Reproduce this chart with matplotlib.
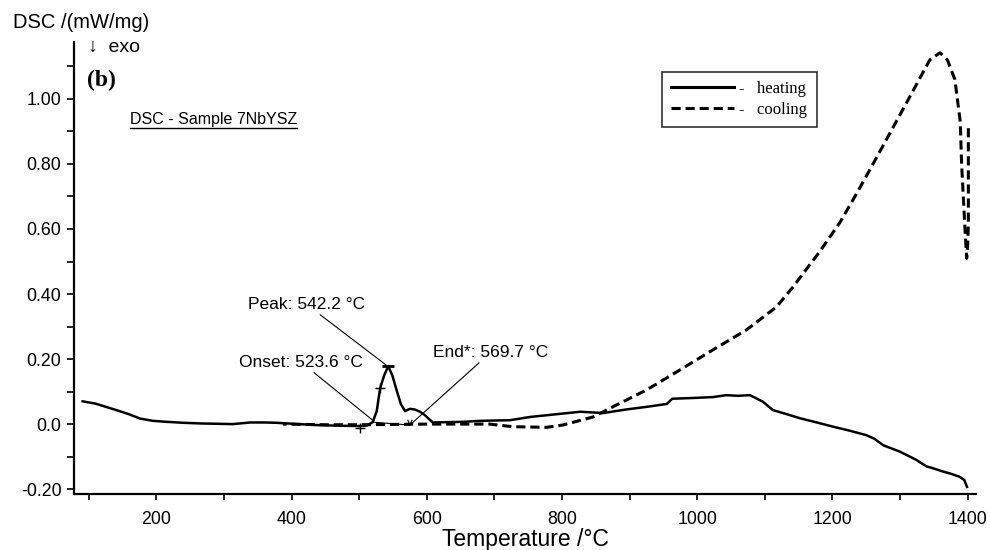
import matplotlib
matplotlib.use("Agg")
import matplotlib.pyplot as plt
from matplotlib.lines import Line2D
from matplotlib.ticker import MultipleLocator, FuncFormatter

plt.rcParams['font.family'] = ['Liberation Sans', 'DejaVu Sans']

# ---------------- data ----------------
heat_T = [91, 110, 141, 160, 176, 195, 215, 240, 265, 290, 313, 339, 360, 378, 410, 437,
          470, 501, 512, 520, 526, 531, 537, 543, 549, 556, 562, 568, 575, 582, 590, 597,
          602, 609, 630, 654, 679, 723, 753, 790, 827, 861, 895, 925, 955, 963, 990, 1023,
          1043, 1060, 1078, 1097, 1112, 1130, 1152, 1175, 1201, 1225, 1250, 1262, 1275, 1300,
          1324, 1339, 1349, 1362, 1374, 1388, 1395, 1399]
heat_v = [0.070, 0.063, 0.043, 0.030, 0.017, 0.010, 0.007, 0.004, 0.002, 0.001, 0.000, 0.005,
          0.005, 0.004, 0.000, -0.003, -0.005, -0.006, -0.004, 0.006, 0.040, 0.110, 0.150,
          0.178, 0.150, 0.100, 0.060, 0.040, 0.047, 0.045, 0.038, 0.028, 0.018, 0.005, 0.006,
          0.007, 0.010, 0.012, 0.022, 0.030, 0.038, 0.034, 0.045, 0.053, 0.062, 0.078, 0.080,
          0.083, 0.089, 0.087, 0.089, 0.069, 0.043, 0.032, 0.018, 0.006, -0.008, -0.020,
          -0.034, -0.045, -0.065, -0.085, -0.110, -0.130, -0.136, -0.145, -0.152, -0.162,
          -0.172, -0.193]

cool_T = [1401, 1401, 1400, 1398.5, 1396, 1391, 1389, 1381, 1370, 1359, 1344, 1310, 1285,
          1260, 1236, 1211, 1181, 1141, 1117, 1073, 1023, 974, 925, 875, 846, 801, 777, 727,
          693, 600, 500, 450, 387]
cool_v = [0.91, 0.62, 0.55, 0.51, 0.60, 0.80, 0.93, 1.06, 1.12, 1.142, 1.12, 0.99, 0.895,
          0.80, 0.71, 0.62, 0.53, 0.42, 0.36, 0.29, 0.228, 0.166, 0.105, 0.053, 0.022,
          -0.003, -0.010, -0.008, 0.000, 0.000, -0.002, -0.002, 0.000]

x_ticks = [200, 400, 600, 800, 1000, 1200, 1400]
y_ticks = [-0.20, 0.0, 0.20, 0.40, 0.60, 0.80, 1.00]

onset_T, onset_v = 523.6, 0.008
peak_T, peak_v = 542.2, 0.178
end_T, end_v = 575.0, -0.003

DASH = (0, (3.0, 1.6))

# ---------------- figure ----------------
fig = plt.figure(figsize=(9.9, 5.5), dpi=100)
ax = fig.add_axes([0.0747, 0.1018, 0.9111, 0.8218])

ax.plot(heat_T, heat_v, color='black', lw=1.8, solid_joinstyle='round')
ax.plot(cool_T, cool_v, color='black', lw=2.2, ls=DASH)

# baseline / markers of the evaluated peak
ax.plot([onset_T - 3, end_T], [0.006, end_v], color='black', lw=0.8)
ax.plot([501], [-0.012], marker='+', color='black', ms=7, mew=1)
ax.plot([531], [0.11], marker='+', color='black', ms=7, mew=1)
ax.plot([peak_T], [peak_v], marker='_', color='black', ms=9, mew=2)
ax.plot([end_T - 3, end_T, end_T + 3], [0.012, end_v, 0.012], color='black', lw=0.8)

ax.set_xlim(78.2, 1412.2)
ax.set_ylim(-0.215, 1.175)

for s in ['top', 'right']:
    ax.spines[s].set_visible(False)
for s in ['left', 'bottom']:
    ax.spines[s].set_linewidth(1.6)

ax.set_xticks(x_ticks)
ax.set_yticks(y_ticks)
ax.xaxis.set_minor_locator(MultipleLocator(100))
ax.yaxis.set_minor_locator(MultipleLocator(0.1))
ax.yaxis.set_major_formatter(FuncFormatter(lambda v, p: "0.0" if abs(v) < 1e-9 else f"{v:.2f}"))
ax.tick_params(axis='both', which='both', direction='out', width=1.2, labelsize=12.8)
ax.tick_params(axis='y', which='both', length=5, pad=4)
ax.tick_params(axis='x', which='both', length=4, pad=8)

ax.set_xlabel('Temperature /°C', fontsize=16.5, labelpad=0)

# annotations
ann = dict(fontsize=12.5, color='black', family=['Liberation Sans', 'DejaVu Sans'])
line = dict(arrowstyle='-', lw=0.8, color='black', shrinkA=0, shrinkB=0)
ax.annotate('Peak: 542.2 °C', xy=(peak_T, peak_v), xytext=(509, 0.368),
            ha='right', va='center', arrowprops=line, **ann)
ax.annotate('Onset: 523.6 °C', xy=(520, 0.012), xytext=(506, 0.19),
            ha='right', va='center', arrowprops=line, **ann)
ax.annotate('End*: 569.7 °C', xy=(end_T, end_v), xytext=(609, 0.22),
            ha='left', va='center', arrowprops=line, **ann)

# texts in figure coordinates
fig.text(0.013, 0.96, 'DSC /(mW/mg)', fontsize=14.5, va='center', ha='left')
fig.text(0.089, 0.9145, '↓  exo', fontsize=14, va='center', ha='left',
         family=['Liberation Sans', 'DejaVu Sans'])
fig.text(0.088, 0.8545, '(b)', fontsize=17, va='center', ha='left',
         family='Liberation Serif', weight='bold')
t = fig.text(0.131, 0.7836, 'DSC - Sample 7NbYSZ', fontsize=11.5, va='center', ha='left')

# legend
handles = [Line2D([], [], color='black', lw=2.2),
           Line2D([], [], color='black', lw=2.2, ls=DASH)]
leg = ax.legend(handles, ['-   heating', '-   cooling'], loc='upper left',
                bbox_to_anchor=((662 - 74) / 902, (494 - 72) / 452), borderaxespad=0,
                frameon=True, fancybox=False, handlelength=3.8, handletextpad=0.3,
                borderpad=0.55, labelspacing=0.3,
                prop={'family': 'Liberation Serif', 'size': 12})
leg.get_frame().set_edgecolor('black')
leg.get_frame().set_linewidth(1.2)

# underline the sample label
fig.canvas.draw()
bb = t.get_window_extent(renderer=fig.canvas.get_renderer())
W, H = fig.bbox.width, fig.bbox.height
yline = (bb.y0 - 1.5) / H
fig.add_artist(Line2D([bb.x0 / W, bb.x1 / W], [yline, yline], color='black', lw=1.0))

fig.savefig('out.png', dpi=100)
